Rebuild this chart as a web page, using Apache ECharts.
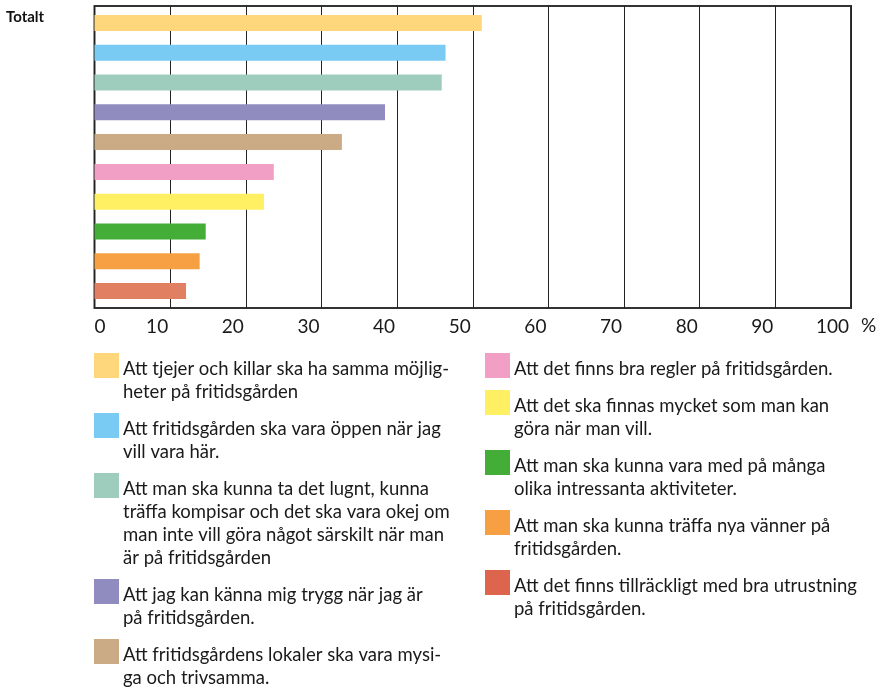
<!DOCTYPE html>
<html>
<head>
<meta charset="utf-8">
<script src="https://cdn.jsdelivr.net/npm/echarts@6/dist/echarts.min.js"></script>
<style>
  html, body { margin: 0; padding: 0; background: #fff; }
  #chart { width: 883px; height: 689px; }
</style>
</head>
<body>
<div id="chart"></div>
<script>
// kategori (enda gruppen)
var categories = ['Totalt'];

// svarsalternativ, radbrytningar som i förlagan
var names = [
    'Att tjejer och killar ska ha samma möjlig-\nheter på fritidsgården',
    'Att fritidsgården ska vara öppen när jag\nvill vara här.',
    'Att man ska kunna ta det lugnt, kunna\nträffa kompisar och det ska vara okej om\nman inte vill göra något särskilt när man\när på fritidsgården',
    'Att jag kan känna mig trygg när jag är\npå fritidsgården.',
    'Att fritidsgårdens lokaler ska vara mysi-\nga och trivsamma.',
    'Att det finns bra regler på fritidsgården.',
    'Att det ska finnas mycket som man kan\ngöra när man vill.',
    'Att man ska kunna vara med på många\nolika intressanta aktiviteter.',
    'Att man ska kunna träffa nya vänner på\nfritidsgården.',
    'Att det finns tillräckligt med bra utrustning\npå fritidsgården.'
];

// procent
var values = [51.2, 46.4, 45.9, 38.4, 32.7, 23.7, 22.4, 14.7, 13.9, 12.1];

var colors = ['#FED77C', '#79CBF3', '#9FCDBD', '#918CBF', '#CBAA86',
              '#F29FC6', '#FEF062', '#43AD38', '#F6A043', '#E07F62'];
var legendColors = ['#FED77C', '#79CBF3', '#9FCDBD', '#918CBF', '#CBAA86',
                    '#F29FC6', '#FEF062', '#43AD38', '#F6A043', '#DD654D'];

var xTicks = [0, 10, 20, 30, 40, 50, 60, 70, 80, 90, 100];

var FONT = 'Lato';
var LINE_H = 23;

var chart = echarts.init(document.getElementById('chart'), null, { renderer: 'canvas' });

var series = names.map(function (n, i) {
    return {
        type: 'bar',
        name: n,
        data: [values[i]],
        barWidth: 16,
        barGap: '86%',
        itemStyle: { color: colors[i] },
        silent: true
    };
});

// förklaringen byggs för hand: första textraden ligger mot rutans nederkant
function legendCol(from, to, x) {
    var out = [];
    var y = 353;
    for (var i = from; i < to; i++) {
        var lines = names[i].split('\n').length;
        out.push({
            type: 'rect',
            x: x, y: y,
            shape: { x: 0, y: 0, width: 25, height: 25 },
            style: { fill: legendColors[i] },
            silent: true
        });
        out.push({
            type: 'text',
            x: x + 29, y: y + 5,
            style: {
                text: names[i],
                fontFamily: FONT,
                fontSize: 18.5,
                lineHeight: LINE_H,
                fill: '#1a1a1a',
                verticalAlign: 'top'
            },
            silent: true
        });
        y += LINE_H * lines + 14;
    }
    return out;
}

chart.setOption({
    animation: false,
    title: {
        text: categories[0],
        left: 6,
        top: 10,
        padding: 0,
        textStyle: { fontFamily: FONT, fontSize: 15, fontWeight: 'bold', color: '#111' }
    },
    grid: {
        left: 94.5,
        right: 32,
        top: 6,
        bottom: 381,
        show: true,
        borderColor: '#333',
        borderWidth: 2,
        backgroundColor: '#fff'
    },
    graphic: legendCol(0, 5, 94).concat(legendCol(5, 10, 485)),
    xAxis: {
        type: 'value',
        min: xTicks[0],
        max: xTicks[xTicks.length - 1],
        interval: 10,
        name: '%',
        nameLocation: 'end',
        nameGap: 10,
        nameTextStyle: {
            fontFamily: FONT, fontSize: 19, color: '#1a1a1a',
            verticalAlign: 'top', padding: [8, 0, 0, 0]
        },
        axisLine: { show: false },
        axisTick: { show: false },
        splitLine: { show: true, lineStyle: { color: '#222', width: 1 } },
        axisLabel: {
            fontFamily: FONT,
            fontSize: 19,
            color: '#1a1a1a',
            margin: 9,
            align: 'right',
            alignMinLabel: 'left',
            alignMaxLabel: 'right',
            padding: [0, 2, 0, 0]
        }
    },
    yAxis: {
        type: 'category',
        data: categories,
        inverse: true,
        axisLine: { show: false },
        axisTick: { show: false },
        axisLabel: { show: false }
    },
    series: series
});
</script>
</body>
</html>
